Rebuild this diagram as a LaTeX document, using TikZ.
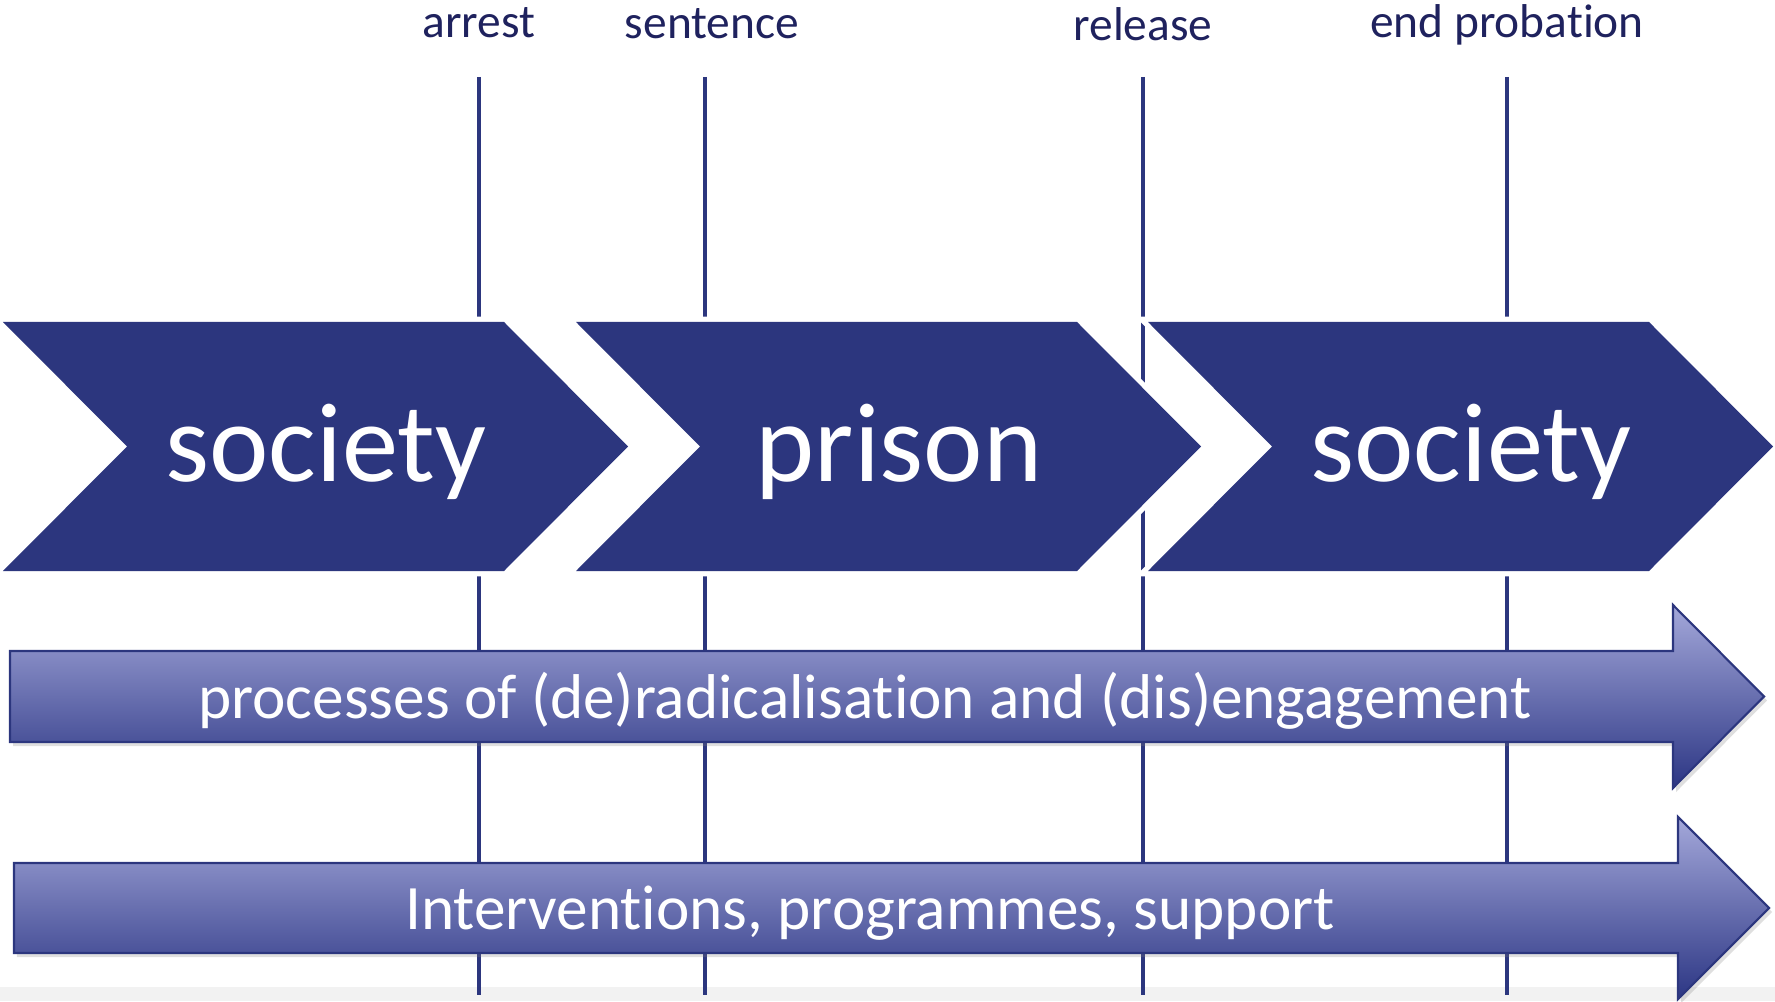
\documentclass[tikz,border=0pt]{standalone}
\usepackage{fontspec}
\setmainfont{Carlito}[Ligatures=NoCommon]
\usetikzlibrary{shadows}
\definecolor{StageNavy}{HTML}{2C367E}
\definecolor{LabelNavy}{HTML}{1F225E}
\definecolor{BandLight}{HTML}{A4A8DA}
\definecolor{BandDark}{HTML}{2C3684}
\definecolor{FootGray}{HTML}{F2F2F2}

\begin{document}
\begin{tikzpicture}[
  x=1cm,y=1cm,
  stage/.style={fill=StageNavy,preaction={draw=white,line width=3pt},
    line join=miter},
  stagetext/.style={font=\fontsize{32}{36}\selectfont,text=white},
  marker/.style={draw=StageNavy,line width=1.4pt},
  milestone/.style={font=\fontsize{13.5}{16}\selectfont,text=LabelNavy},
  band/.style={draw=StageNavy,line width=0.6pt,top color=BandLight,
    bottom color=BandDark,drop shadow={opacity=0.25,shadow xshift=0.03,
    shadow yshift=-0.04}},
  bandtext/.style={font=\fontsize{18}{22}\selectfont,text=white}
]
\useasboundingbox (0,0) rectangle (17.75,10.01);
\fill[FootGray] (0,0) rectangle (17.75,0.14);

% milestones along the time line
\node[milestone] (arrest)   at (4.79,9.78) {arrest};
\node[milestone] (sentence) at (7.12,9.77) {sentence};
\node[milestone] (release)  at (11.43,9.77) {release};
\node[milestone] (endprob)  at (15.07,9.76) {end probation};

\foreach \x/\nm in {4.79/arrest,7.05/sentence,11.43/release,15.07/endprob}{
  \coordinate (\nm-top) at (\x,9.24);
  \coordinate (\nm-bot) at (\x,0.06);
  \draw[marker] (\nm-top) -- (\nm-bot);
}

% three stages as chevrons
\foreach \x/\nm/\txt in {0.03/socA/society,5.76/prison/prison,
    11.48/socB/society}{
  \path[stage] (\x,6.79) -- ++(5.01,0) -- ++(1.24,-1.245)
    -- ++(-1.24,-1.245) -- ++(-5.01,0) -- ++(1.24,1.245) -- cycle;
  \node[stagetext] (\nm) at (\x+3.23,5.49) {\txt};
}

% long-running processes
\draw[band] (0.10,3.50) -- (16.73,3.50) -- (16.73,3.96) -- (17.64,3.045)
  -- (16.73,2.13) -- (16.73,2.59) -- (0.10,2.59) -- cycle;
\node[bandtext] (processes) at (8.65,3.00)
  {processes of (de)radicalisation and (dis)engagement};

\draw[band] (0.14,1.38) -- (16.78,1.38) -- (16.78,1.84) -- (17.69,0.93)
  -- (16.78,0.02) -- (16.78,0.48) -- (0.14,0.48) -- cycle;
\node[bandtext] (support) at (8.70,0.88)
  {Interventions, programmes, support};

\end{tikzpicture}
\end{document}
